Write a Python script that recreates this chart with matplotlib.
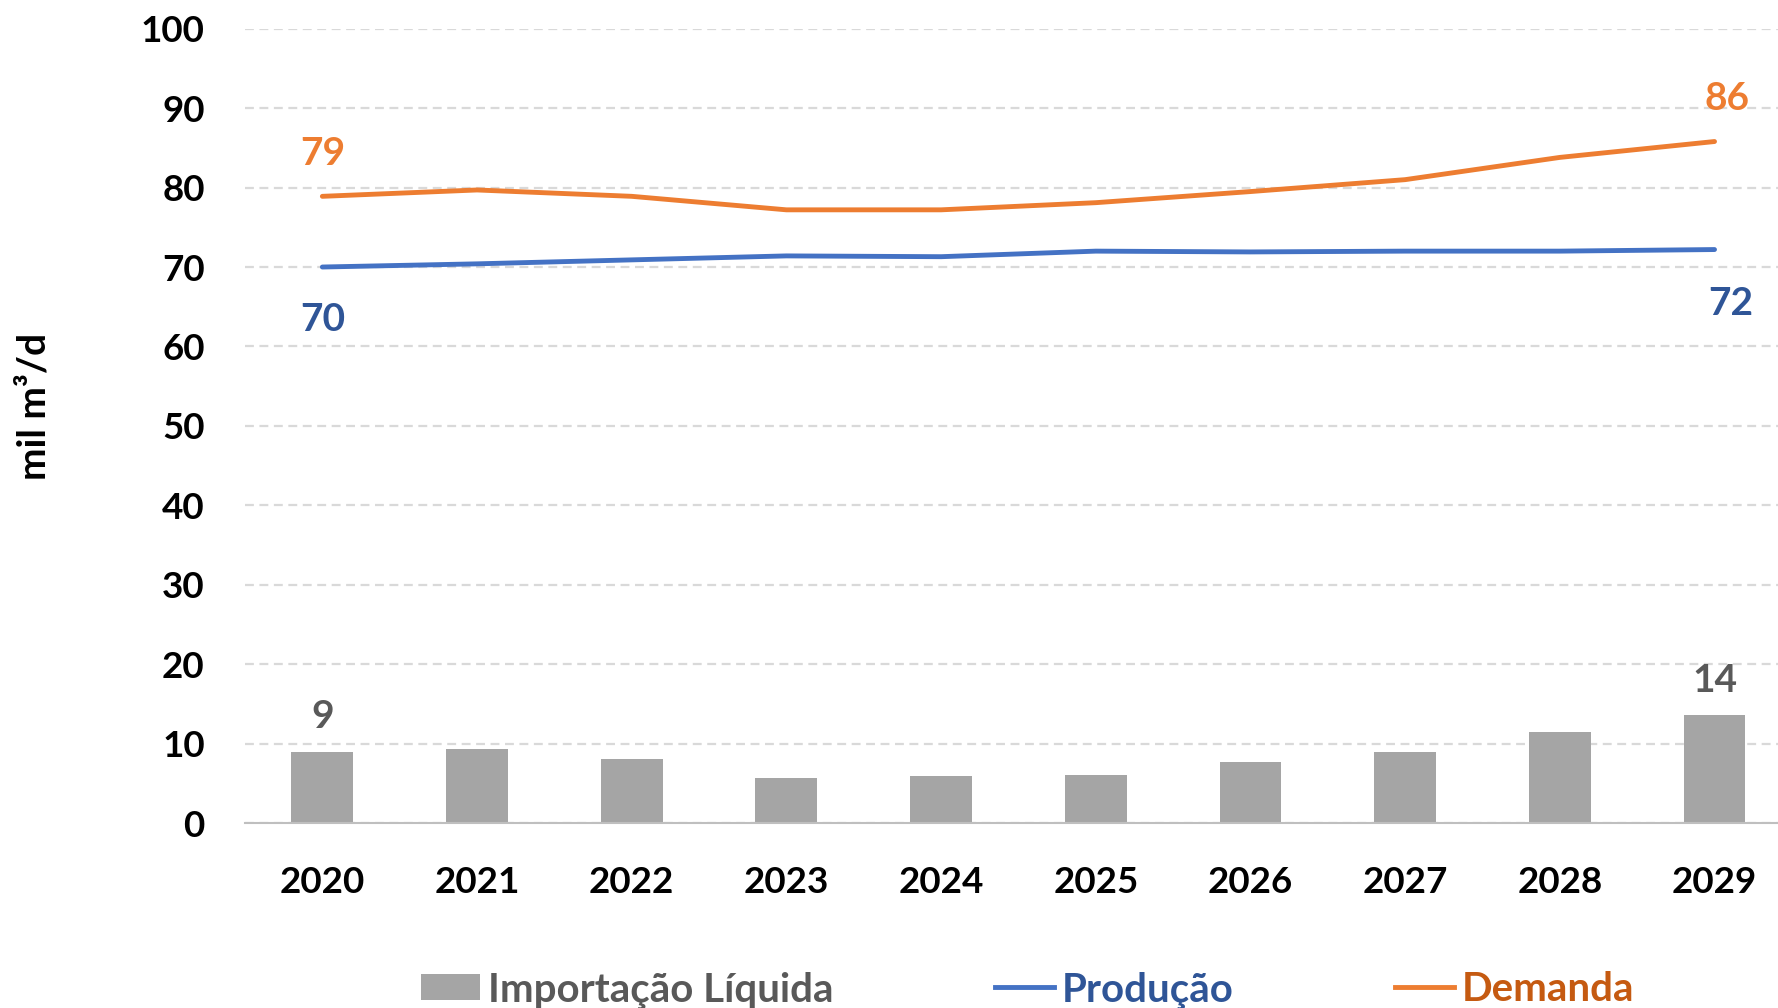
import matplotlib
matplotlib.use("Agg")
import matplotlib.pyplot as plt
from matplotlib.lines import Line2D
from matplotlib.patches import Patch
import numpy as np

plt.rcParams['font.family'] = ['Lato', 'DejaVu Sans']
plt.rcParams['font.weight'] = 'bold'

years = ['2020', '2021', '2022', '2023', '2024', '2025', '2026', '2027', '2028', '2029']
importacao = [8.9, 9.3, 8.0, 5.7, 5.9, 6.1, 7.7, 8.9, 11.5, 13.6]
producao = [70.0, 70.4, 70.9, 71.4, 71.3, 72.0, 71.9, 72.0, 72.0, 72.2]
demanda = [78.9, 79.7, 78.9, 77.2, 77.2, 78.1, 79.5, 81.0, 83.8, 85.8]
yticks = [0, 10, 20, 30, 40, 50, 60, 70, 80, 90, 100]

C_BAR = '#A5A5A5'
C_BLUE = '#4472C4'
C_ORANGE = '#ED7D31'
C_BLUE_T = '#2F5597'
C_ORANGE_T = '#C55A11'
C_GRAY_T = '#595959'

fig = plt.figure(figsize=(17.78, 10.08), dpi=100)
ax = fig.add_axes([0.1378, 0.1835, 0.870, 0.788])

x = np.arange(len(years))
ax.bar(x, importacao, width=0.40, color=C_BAR, zorder=2)
ax.plot(x, producao, color=C_BLUE, lw=3.5, solid_capstyle='round', zorder=3)
ax.plot(x, demanda, color=C_ORANGE, lw=3.5, solid_capstyle='round', zorder=3)

ax.set_xlim(-0.5, len(years) - 0.5)
ax.set_ylim(0, 100)
ax.set_yticks(yticks)
ax.set_xticks(x)
ax.set_xticklabels(years)
ax.tick_params(axis='both', length=0, labelsize=26.5)
ax.tick_params(axis='y', pad=29)
ax.tick_params(axis='x', pad=31)
ax.grid(axis='y', color='#D9D9D9', linestyle=(0, (4, 2.5)), linewidth=1.6, zorder=0)
ax.set_axisbelow(True)
for s in ['top', 'right', 'left']:
    ax.spines[s].set_visible(False)
ax.spines['bottom'].set_color('#BFBFBF')
ax.spines['bottom'].set_linewidth(1.5)
ax.spines['bottom'].set_zorder(4)

ax.set_ylabel('mil m³/d', fontsize=28, fontweight='bold')
ax.yaxis.set_label_coords(-0.125, 0.525)

fs = 28
# data labels
ax.annotate(f'{demanda[0]:.0f}', (x[0], demanda[0]), xytext=(0, 31), textcoords='offset points',
            ha='center', va='center', color=C_ORANGE, fontsize=fs, fontweight='bold')
ax.annotate(f'{demanda[-1]:.0f}', (x[-1], demanda[-1]), xytext=(9, 31), textcoords='offset points',
            ha='center', va='center', color=C_ORANGE, fontsize=fs, fontweight='bold')
ax.annotate(f'{producao[0]:.0f}', (x[0], producao[0]), xytext=(0, -38), textcoords='offset points',
            ha='center', va='center', color=C_BLUE_T, fontsize=fs, fontweight='bold')
ax.annotate(f'{producao[-1]:.0f}', (x[-1], producao[-1]), xytext=(12, -39), textcoords='offset points',
            ha='center', va='center', color=C_BLUE_T, fontsize=fs, fontweight='bold')
ax.annotate(f'{importacao[0]:.0f}', (x[0], importacao[0]), xytext=(0, 26), textcoords='offset points',
            ha='center', va='center', color=C_GRAY_T, fontsize=fs, fontweight='bold')
ax.annotate(f'{importacao[-1]:.0f}', (x[-1], importacao[-1]), xytext=(0, 25), textcoords='offset points',
            ha='center', va='center', color=C_GRAY_T, fontsize=fs, fontweight='bold')

handles = [Patch(facecolor=C_BAR, edgecolor='none'),
           Line2D([0], [0], color=C_BLUE, lw=3.5),
           Line2D([0], [0], color=C_ORANGE, lw=3.5)]
labels = ['Importação Líquida', 'Produção', 'Demanda']
leg = fig.legend(handles, labels, loc='center', bbox_to_anchor=(0.578, 0.018), ncol=3,
                 frameon=False, fontsize=29, handlelength=1.47, handletextpad=0.2,
                 columnspacing=4.0, handleheight=0.62)
for t, c in zip(leg.get_texts(), [C_GRAY_T, C_BLUE_T, C_ORANGE_T]):
    t.set_color(c)

fig.savefig('out.png', dpi=100)
